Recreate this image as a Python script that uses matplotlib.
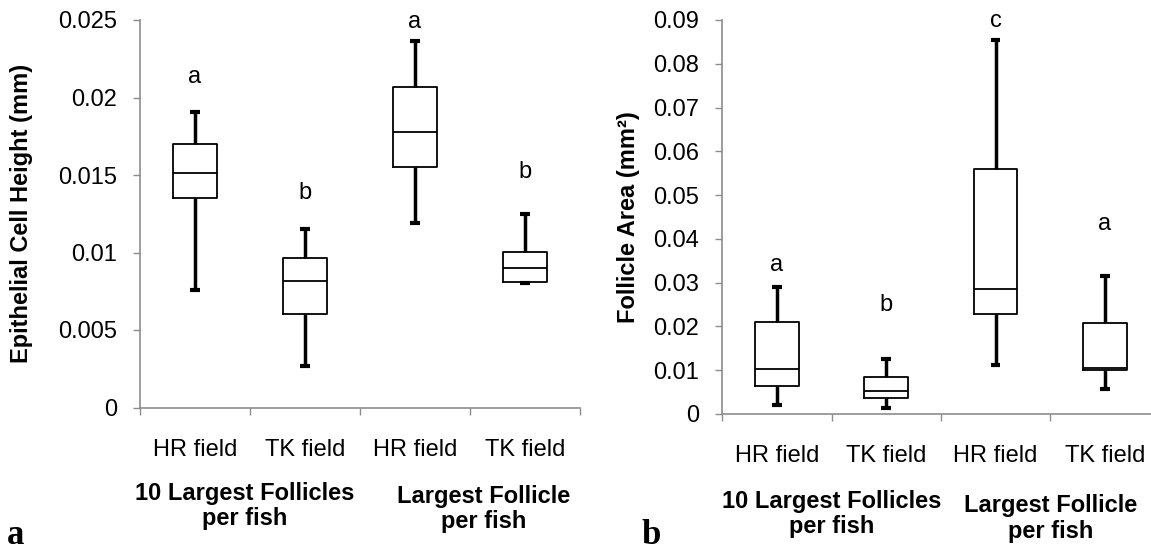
import matplotlib
matplotlib.use("Agg")
import matplotlib.pyplot as plt

plt.rcParams['font.family'] = ['Liberation Sans', 'DejaVu Sans']

categories = ["HR field", "TK field", "HR field", "TK field"]
group_line1 = ["10 Largest Follicles", "Largest Follicle"]
group_line2 = ["per fish", "per fish"]

# Panel a: Epithelial cell height (mm)
a_whislo = [0.0076, 0.00268, 0.01192, 0.00801]
a_q1 = [0.01352, 0.00601, 0.01554, 0.00812]
a_med = [0.01515, 0.00816, 0.0178, 0.00898]
a_q3 = [0.01698, 0.00963, 0.0207, 0.01003]
a_whishi = [0.01906, 0.01154, 0.02363, 0.01248]
a_letters = ["a", "b", "a", "b"]
a_letter_y = [0.02134, 0.01384, 0.0249, 0.01521]
a_yticks = [0, 0.005, 0.01, 0.015, 0.02, 0.025]
a_yticklabels = ["0", "0.005", "0.01", "0.015", "0.02", "0.025"]

# Panel b: Follicle area (mm^2)
b_whislo = [0.00199, 0.0013, 0.01126, 0.00571]
b_q1 = [0.0064, 0.00358, 0.0228, 0.00998]
b_med = [0.01021, 0.00532, 0.0286, 0.01058]
b_q3 = [0.02101, 0.00845, 0.0560, 0.02079]
b_whishi = [0.02894, 0.01249, 0.0854, 0.03145]
b_letters = ["a", "b", "c", "a"]
b_letter_y = [0.0340, 0.0249, 0.0898, 0.0434]
b_yticks = [0, 0.01, 0.02, 0.03, 0.04, 0.05, 0.06, 0.07, 0.08, 0.09]
b_yticklabels = ["0", "0.01", "0.02", "0.03", "0.04", "0.05", "0.06", "0.07", "0.08", "0.09"]

W, H = 1151, 552
fig = plt.figure(figsize=(W / 100, H / 100), dpi=100)

spine_col = "#8c8c8c"
FS = 17


def panel(rect, whislo, q1, med, q3, whishi, letters, letter_y, yticks, yticklabels,
          ylabel, ylim, ylabel_x, xpad):
    ax = fig.add_axes(rect)
    stats = []
    for i in range(len(categories)):
        stats.append(dict(whislo=whislo[i], q1=q1[i], med=med[i], q3=q3[i],
                          whishi=whishi[i], fliers=[]))
    pos = list(range(1, len(categories) + 1))
    ax.bxp(stats, positions=pos, widths=0.4, showfliers=False,
           boxprops=dict(color="black", linewidth=1.3),
           medianprops=dict(color="black", linewidth=1.3, solid_capstyle="butt"),
           whiskerprops=dict(color="black", linewidth=2.5, solid_capstyle="butt"),
           capprops=dict(color="black", linewidth=3.0, solid_capstyle="butt"),
           capwidths=0.09)
    ax.set_xlim(0.5, len(categories) + 0.5)
    ax.set_ylim(*ylim)
    for s in ["top", "right"]:
        ax.spines[s].set_visible(False)
    for s in ["left", "bottom"]:
        ax.spines[s].set_color(spine_col)
        ax.spines[s].set_linewidth(1.2)
    ax.set_xticks([p - 0.5 for p in pos] + [len(pos) + 0.5])
    ax.set_xticklabels([])
    ax.tick_params(axis="x", which="major", length=5, color=spine_col, width=1.0)
    ax.set_xticks(pos, minor=True)
    ax.set_xticklabels(categories, minor=True, fontsize=FS)
    ax.tick_params(axis="x", which="minor", length=0, pad=xpad)
    ax.set_yticks(yticks)
    ax.set_yticklabels(yticklabels, fontsize=FS)
    ax.tick_params(axis="y", length=5, color=spine_col, width=1.0, pad=11.5)
    for p, l, y in zip(pos, letters, letter_y):
        ax.text(p, y, l, ha="center", va="center", fontsize=FS)
    ax.set_ylabel(ylabel, fontsize=FS, fontweight="bold")
    ax.yaxis.set_label_coords(ylabel_x, 0.5)
    return ax


axa = panel([140 / W, (H - 407.5) / H, 440 / W, 387.5 / H],
            a_whislo, a_q1, a_med, a_q3, a_whishi, a_letters, a_letter_y,
            a_yticks, a_yticklabels, "Epithelial Cell Height (mm)", (0, 0.025), -0.243, 22.5)

axb = panel([722.3 / W, (H - 414) / H, 437.2 / W, 394 / H],
            b_whislo, b_q1, b_med, b_q3, b_whishi, b_letters, b_letter_y,
            b_yticks, b_yticklabels, "Follicle Area (mm²)", (0, 0.09), -0.188, 22)

# group labels (x centre, baseline line 1, baseline line 2) in pixels
group_pos = [(245, 500, 525, 0), (484, 503, 528, 1), (832, 508, 533, 0), (1051, 512, 538, 1)]
for x, b1, b2, g in group_pos:
    fig.text(x / W, 1 - b1 / H, group_line1[g], ha="center", va="baseline",
             fontsize=FS, fontweight="bold")
    fig.text(x / W, 1 - b2 / H, group_line2[g], ha="center", va="baseline",
             fontsize=FS, fontweight="bold")

# panel letters
fig.text(16 / W, 1 - 544 / H, "a", ha="center", va="baseline", fontsize=25,
         fontweight="bold", family="Liberation Serif")
fig.text(651 / W, 1 - 544 / H, "b", ha="center", va="baseline", fontsize=25,
         fontweight="bold", family="Liberation Serif")

fig.savefig("out.png", dpi=100)
